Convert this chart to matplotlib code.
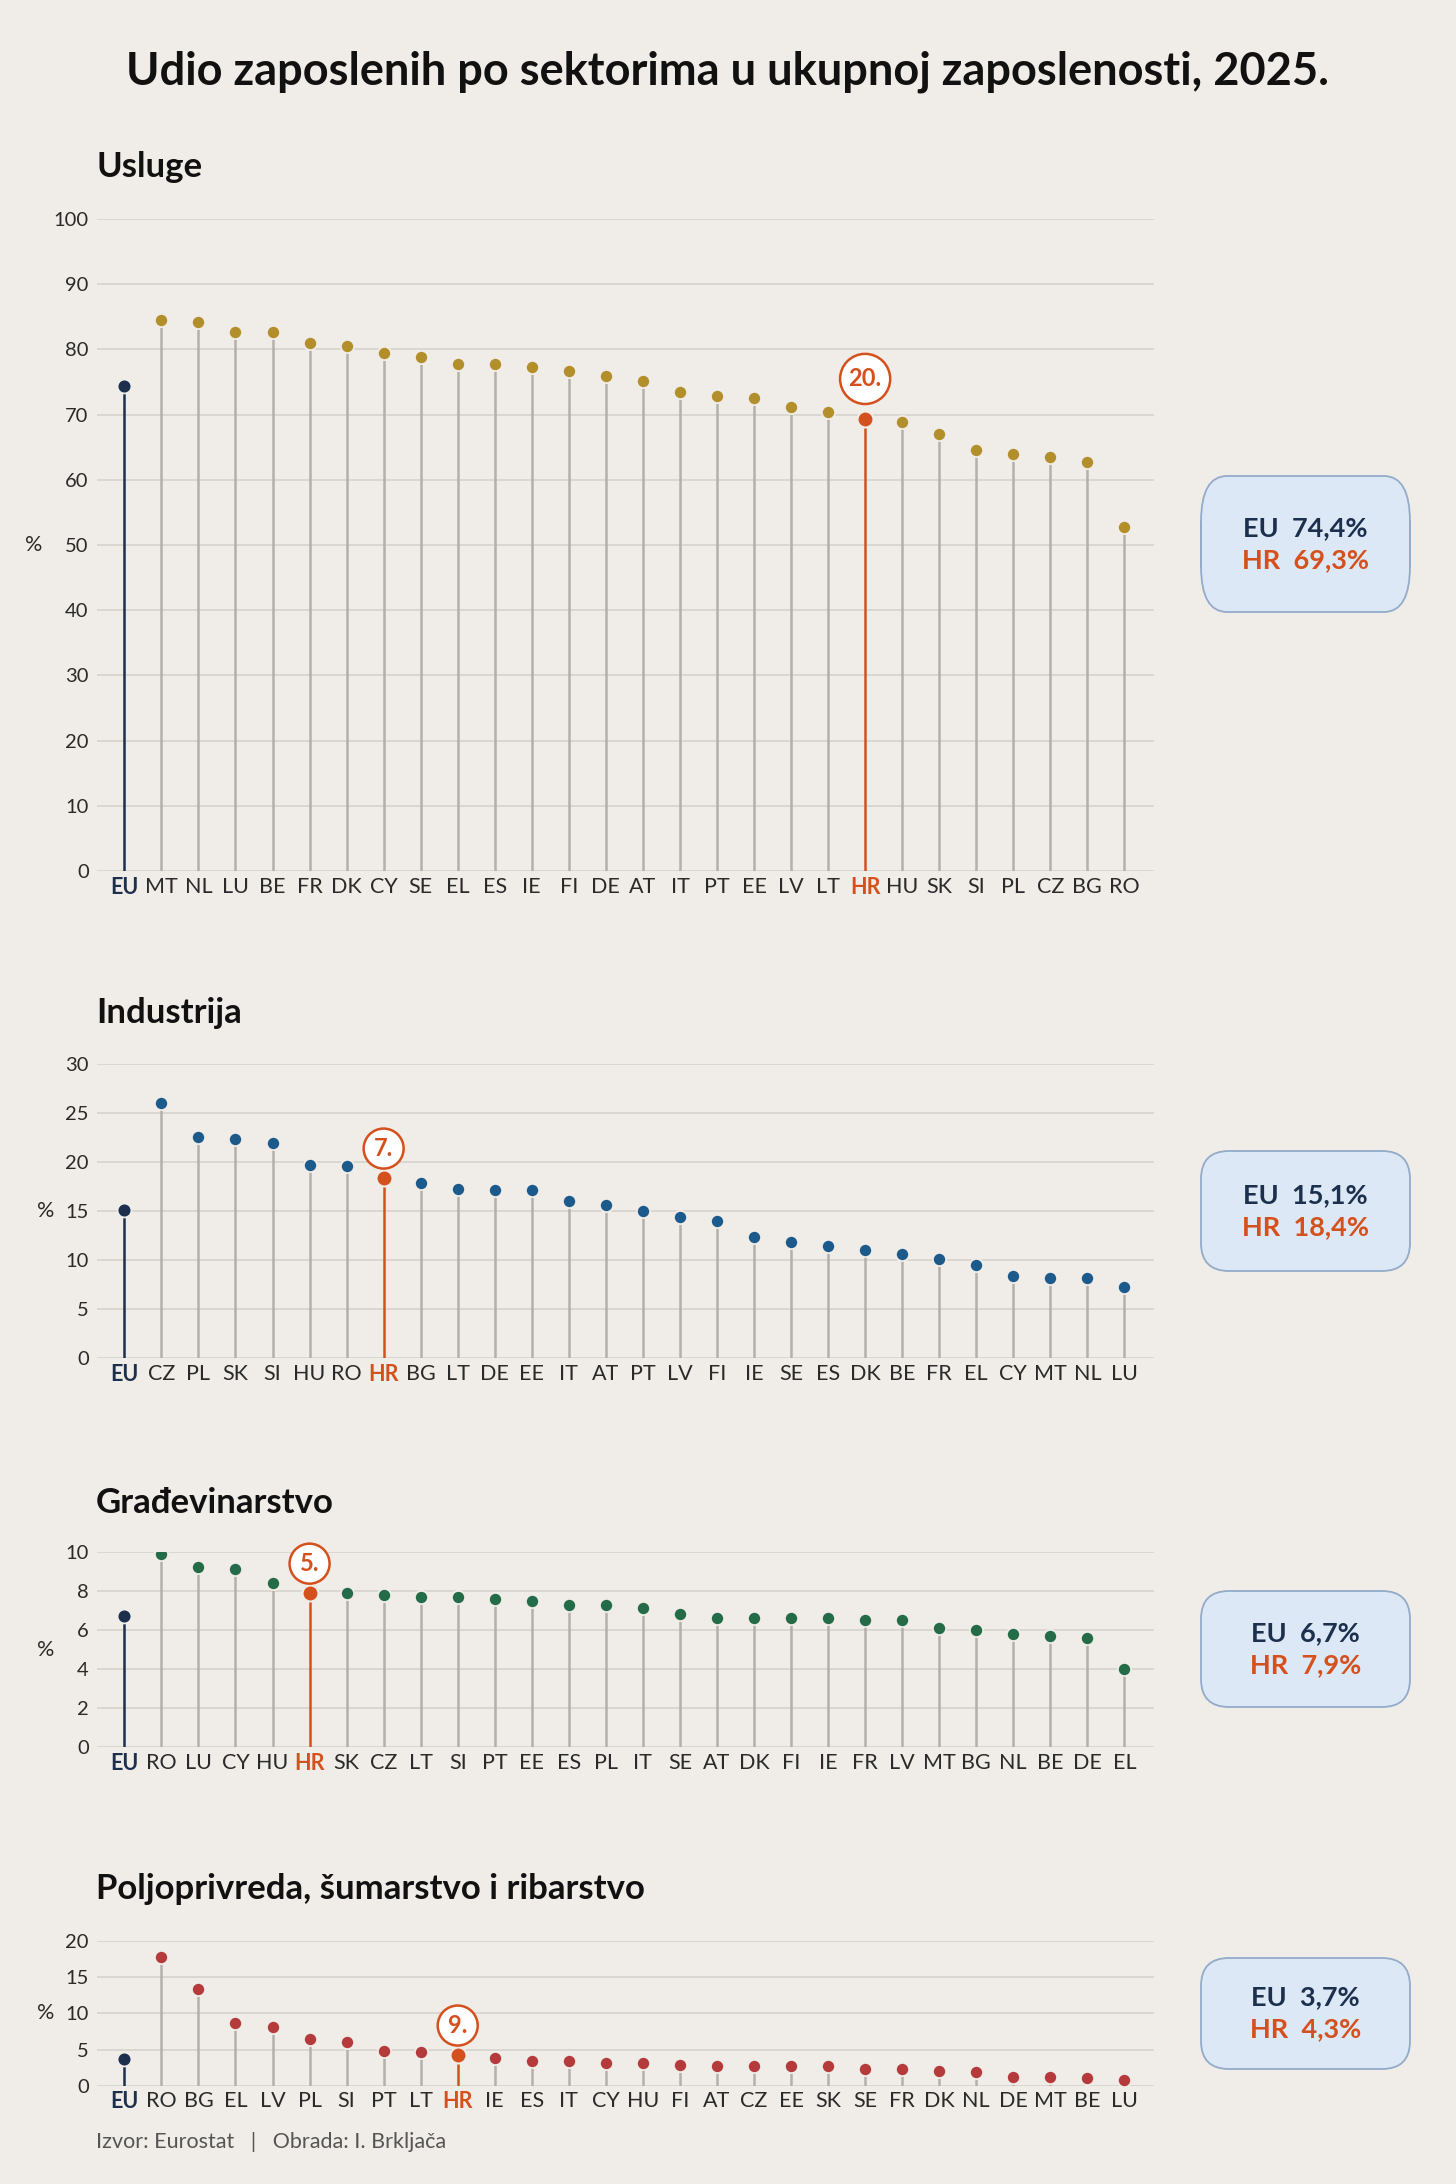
import numpy as np
import matplotlib.pyplot as plt
from matplotlib.patches import FancyBboxPatch
from matplotlib.lines import Line2D

# ---------------- podaci (Eurostat, 2025) ----------------
usl_cats = ['EU', 'MT', 'NL', 'LU', 'BE', 'FR', 'DK', 'CY', 'SE', 'EL', 'ES', 'IE', 'FI', 'DE',
            'AT', 'IT', 'PT', 'EE', 'LV', 'LT', 'HR', 'HU', 'SK', 'SI', 'PL', 'CZ', 'BG', 'RO']
usl_vals = [74.4, 84.5, 84.2, 82.7, 82.6, 81.0, 80.5, 79.4, 78.9, 77.8, 77.8, 77.3, 76.7, 76.0,
            75.1, 73.5, 72.8, 72.6, 71.2, 70.4, 69.3, 68.9, 67.0, 64.5, 64.0, 63.5, 62.8, 52.7]

ind_cats = ['EU', 'CZ', 'PL', 'SK', 'SI', 'HU', 'RO', 'HR', 'BG', 'LT', 'DE', 'EE', 'IT', 'AT',
            'PT', 'LV', 'FI', 'IE', 'SE', 'ES', 'DK', 'BE', 'FR', 'EL', 'CY', 'MT', 'NL', 'LU']
ind_vals = [15.1, 26.0, 22.5, 22.3, 21.9, 19.7, 19.6, 18.4, 17.9, 17.3, 17.2, 17.2, 16.0, 15.6,
            15.0, 14.4, 14.0, 12.4, 11.9, 11.5, 11.0, 10.6, 10.1, 9.5, 8.4, 8.2, 8.2, 7.3]

gra_cats = ['EU', 'RO', 'LU', 'CY', 'HU', 'HR', 'SK', 'CZ', 'LT', 'SI', 'PT', 'EE', 'ES', 'PL',
            'IT', 'SE', 'AT', 'DK', 'FI', 'IE', 'FR', 'LV', 'MT', 'BG', 'NL', 'BE', 'DE', 'EL']
gra_vals = [6.7, 9.9, 9.2, 9.1, 8.4, 7.9, 7.9, 7.8, 7.7, 7.7, 7.6, 7.5, 7.3, 7.3,
            7.1, 6.8, 6.6, 6.6, 6.6, 6.6, 6.5, 6.5, 6.1, 6.0, 5.8, 5.7, 5.6, 4.0]

pol_cats = ['EU', 'RO', 'BG', 'EL', 'LV', 'PL', 'SI', 'PT', 'LT', 'HR', 'IE', 'ES', 'IT', 'CY',
            'HU', 'FI', 'AT', 'CZ', 'EE', 'SK', 'SE', 'FR', 'DK', 'NL', 'DE', 'MT', 'BE', 'LU']
pol_vals = [3.7, 17.8, 13.3, 8.7, 8.1, 6.5, 6.0, 4.8, 4.7, 4.3, 3.9, 3.5, 3.5, 3.2,
            3.1, 2.9, 2.8, 2.8, 2.8, 2.7, 2.4, 2.3, 2.0, 1.9, 1.2, 1.2, 1.1, 0.8]

titles = ['Usluge', 'Industrija', 'Građevinarstvo', 'Poljoprivreda, šumarstvo i ribarstvo']
dot_colors = ['#b38f2b', '#1d5a8c', '#246b47', '#b43a3b']
y_tops = [100, 30, 10, 20]
y_steps = [10, 5, 2, 5]

# ---------------- stil ----------------
BG = '#f0ede8'
GRID = '#d8d4ce'
STEM = '#b3b0ab'
EU_C = '#1c2f4d'
HR_C = '#d4511d'
TXT = '#2a2a2a'
W, H = 1456, 2184
plt.rcParams['font.family'] = ['Lato', 'DejaVu Sans']

fig = plt.figure(figsize=(W / 100, H / 100), dpi=100, facecolor=BG)

fig.text(0.5, 0.967, 'Udio zaposlenih po sektorima u ukupnoj zaposlenosti, 2025.',
         ha='center', va='center', fontsize=32.5, fontweight='bold', color='#111111')

# pozicije panela (dno, visina) i naslova
ax_left, ax_w = 0.0666, 0.726
panels = [(0.6012, 0.2985), (0.3780, 0.1349), (0.1999, 0.0896), (0.0449, 0.0665)]
title_y = [0.9235, 0.536, 0.312, 0.135]
box_px = [(476, 612), (1151, 1271), (1591, 1707), (1958, 2069)]
label_off = [29, 21, 21, 21]

data = [(usl_cats, usl_vals), (ind_cats, ind_vals), (gra_cats, gra_vals), (pol_cats, pol_vals)]

for k, (cats, vals) in enumerate(data):
    bottom, height = panels[k]
    ax = fig.add_axes([ax_left, bottom, ax_w, height])
    ax.set_facecolor(BG)
    x = np.arange(len(cats))
    vals = np.array(vals)
    hr = cats.index('HR')

    stem_cols = [STEM] * len(cats)
    stem_cols[0] = EU_C
    stem_cols[hr] = HR_C
    ax.vlines(x, 0, vals, colors=stem_cols, linewidth=1.8, zorder=2)

    others = [i for i in range(len(cats)) if i not in (0, hr)]
    ax.plot(x[others], vals[others], 'o', ms=9.5, color=dot_colors[k],
            mec=BG, mew=1.3, zorder=3)
    ax.plot(x[0], vals[0], 'o', ms=10, color=EU_C, mec=BG, mew=1.3, zorder=3)
    ax.plot(x[hr], vals[hr], 'o', ms=11.5, color=HR_C, mec=BG, mew=1.5, zorder=3)

    ax.annotate(f'{hr}.', (x[hr], vals[hr]), xytext=(0, label_off[k]),
                textcoords='offset points', ha='center', va='center',
                fontsize=17, fontweight='bold', color=HR_C, annotation_clip=False,
                bbox=dict(boxstyle='circle,pad=0.36', fc='white', ec=HR_C, lw=1.8),
                zorder=5)

    ax.set_xlim(-0.74, len(cats) - 0.2)
    ax.set_ylim(0, y_tops[k])
    ax.set_yticks(np.arange(0, y_tops[k] + 1, y_steps[k]))
    ax.grid(axis='y', color=GRID, linewidth=1.3, zorder=0)
    ax.set_axisbelow(True)
    for s in ax.spines.values():
        s.set_visible(False)
    ax.tick_params(length=0, labelsize=14.5, colors=TXT, pad=6)
    ax.tick_params(axis='x', pad=4, labelsize=15.5)
    ax.set_xticks(x)
    ax.set_xticklabels(cats)
    for i, t in enumerate(ax.get_xticklabels()):
        if i == 0:
            t.set_color(EU_C)
            t.set_fontweight('bold')
        elif i == hr:
            t.set_color(HR_C)
            t.set_fontweight('bold')

    ax.set_ylabel('%', rotation=0, fontsize=15.5, color=TXT, labelpad=14, va='center')

    fig.text(0.066, title_y[k], titles[k], ha='left', va='center',
             fontsize=25, fontweight='bold', color='#111111')

    # okvir s EU / HR vrijednostima
    y0, y1 = box_px[k]
    bx0, bx1 = 1201 / W, 1410 / W
    by0, by1 = 1 - y1 / H, 1 - y0 / H
    if k == 0:
        # prvi okvir ima izbocene bocne rubove
        rx, asp = 26 / W, (46 / H) / (26 / W)
    else:
        rx, asp = 28 / W, (28 / H) / (28 / W)
    box = FancyBboxPatch((bx0, by0), bx1 - bx0, by1 - by0,
                         boxstyle=f'round,pad=0,rounding_size={rx}',
                         transform=fig.transFigure, fc='#dce8f6', ec='#93abc9',
                         lw=1.3, mutation_aspect=asp)
    fig.add_artist(box)
    if k == 0:
        for xe in (bx0, bx1):
            fig.add_artist(Line2D([xe, xe], [1 - 567 / H, 1 - 522 / H],
                                  transform=fig.transFigure, color='#93abc9', lw=1.3))
    cy = (by0 + by1) / 2
    eu_s = f'{vals[0]:.1f}'.replace('.', ',')
    hr_s = f'{vals[hr]:.1f}'.replace('.', ',')
    fig.text((bx0 + bx1) / 2, cy + 0.0073, f'EU  {eu_s}%', ha='center', va='center',
             fontsize=19.5, fontweight='bold', color=EU_C)
    fig.text((bx0 + bx1) / 2, cy - 0.0073, f'HR  {hr_s}%', ha='center', va='center',
             fontsize=19.5, fontweight='bold', color=HR_C)

fig.text(0.066, 0.0193, 'Izvor: Eurostat   |   Obrada: I. Brkljača', ha='left', va='center',
         fontsize=15.5, color='#555555')

fig.savefig('out.png', dpi=100, facecolor=BG)
